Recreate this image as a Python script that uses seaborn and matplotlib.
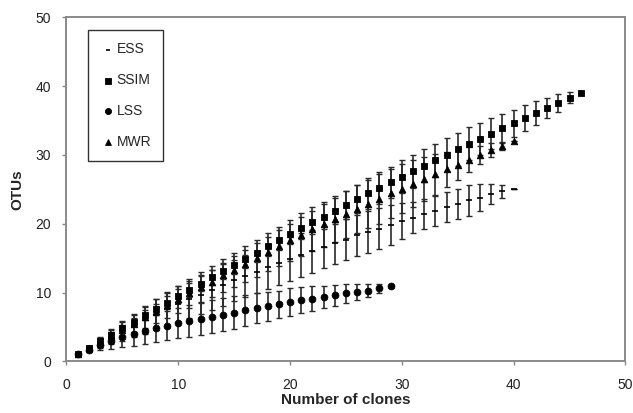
import numpy as np
import pandas as pd
import seaborn as sns
import matplotlib
matplotlib.use('Agg')
import matplotlib.pyplot as plt

# valores (media e desvio por numero de clones)
x_ess = list(range(1, 41))
ess = [1.0, 1.9, 2.8, 3.6, 4.4, 5.2, 6.0, 6.8, 7.6, 8.3, 9.0, 9.7, 10.4, 11.1, 11.8, 12.4, 13.0, 13.7, 14.3, 14.9,
       15.5, 16.0, 16.6, 17.2, 17.7, 18.3, 18.8, 19.3, 19.8, 20.4, 20.9, 21.4, 21.9, 22.4, 22.9, 23.4, 23.8, 24.3, 24.7, 25.0]
ess_err = [0, 0.4, 0.8, 1.1, 1.4, 1.7, 2.0, 2.2, 2.4, 2.6, 2.7, 2.8, 2.9, 3.0, 3.0, 3.1, 3.1, 3.2, 3.2, 3.2,
           3.2, 3.1, 3.1, 3.0, 3.0, 3.0, 3.0, 3.0, 2.9, 2.6, 2.3, 2.2, 2.2, 2.2, 2.2, 2.2, 2.0, 1.5, 1.0, 0]

x_ssim = list(range(1, 47))
ssim = [1.0, 1.95, 2.9, 3.85, 4.8, 5.75, 6.7, 7.6, 8.55, 9.5, 10.4, 11.3, 12.2, 13.1, 14.0, 14.9, 15.8, 16.7, 17.6, 18.5,
        19.35, 20.2, 21.05, 21.9, 22.75, 23.6, 24.4, 25.2, 26.0, 26.8, 27.6, 28.4, 29.2, 30.0, 30.8, 31.6, 32.3, 33.1,
        33.9, 34.6, 35.4, 36.1, 36.8, 37.6, 38.3, 39.0]
ssim_err = [0, 0.2, 0.3, 0.4, 0.5, 0.6, 0.7, 0.8, 0.9, 1.0, 1.05, 1.1, 1.15, 1.2, 1.25, 1.3, 1.35, 1.4, 1.45, 1.5,
            1.6, 1.7, 1.8, 1.9, 2.0, 2.1, 2.2, 2.3, 2.3, 2.4, 2.4, 2.4, 2.4, 2.4, 2.4, 2.4, 2.3, 2.2, 2.1, 2.0,
            1.9, 1.7, 1.5, 1.3, 0.8, 0]

x_lss = list(range(1, 30))
lss = [1.0, 1.7, 2.4, 2.9, 3.5, 4.0, 4.4, 4.8, 5.2, 5.6, 5.9, 6.2, 6.5, 6.8, 7.1, 7.4, 7.8, 8.0, 8.3, 8.6,
       8.9, 9.1, 9.4, 9.6, 9.9, 10.1, 10.3, 10.6, 10.9]
lss_err = [0, 0.4, 0.8, 1.1, 1.4, 1.7, 1.9, 2.0, 2.1, 2.2, 2.3, 2.3, 2.4, 2.4, 2.4, 2.3, 2.2, 2.1, 2.0, 2.0,
           1.9, 1.8, 1.6, 1.5, 1.4, 1.2, 1.0, 0.7, 0]

x_mwr = list(range(1, 41))
mwr = [1.0, 1.9, 2.8, 3.7, 4.6, 5.5, 6.4, 7.3, 8.2, 9.0, 9.9, 10.8, 11.6, 12.5, 13.3, 14.2, 15.0, 15.9, 16.7, 17.6,
       18.4, 19.2, 19.9, 20.7, 21.4, 22.2, 22.9, 23.6, 24.4, 25.1, 25.8, 26.5, 27.2, 27.9, 28.6, 29.3, 30.0, 30.7, 31.3, 32.0]
mwr_err = [0, 0.3, 0.6, 0.9, 1.1, 1.3, 1.5, 1.7, 1.9, 2.0, 2.1, 2.2, 2.3, 2.4, 2.5, 2.6, 2.7, 2.8, 2.9, 3.0,
           3.1, 3.2, 3.3, 3.3, 3.4, 3.5, 3.5, 3.6, 3.6, 3.6, 3.4, 3.2, 3.0, 2.6, 2.2, 1.8, 1.3, 1.0, 0.6, 0]

series = ['ESS', 'SSIM', 'LSS', 'MWR']

df = pd.concat([
    pd.DataFrame({'clones': x_ess, 'otus': ess, 'err': ess_err, 'serie': 'ESS'}),
    pd.DataFrame({'clones': x_ssim, 'otus': ssim, 'err': ssim_err, 'serie': 'SSIM'}),
    pd.DataFrame({'clones': x_lss, 'otus': lss, 'err': lss_err, 'serie': 'LSS'}),
    pd.DataFrame({'clones': x_mwr, 'otus': mwr, 'err': mwr_err, 'serie': 'MWR'}),
])

sns.set_style('white')
plt.rcParams['font.family'] = ['Liberation Sans', 'DejaVu Sans']

fig, ax = plt.subplots(figsize=(6.33, 4.13), dpi=100)
fig.subplots_adjust(left=0.105, right=0.988, top=0.958, bottom=0.125)

# barras de erro primeiro
for s in series:
    d = df[df['serie'] == s]
    ax.errorbar(d['clones'], d['otus'], yerr=d['err'], fmt='none', ecolor='#2a2a2a',
                elinewidth=1.2, capsize=2.3, capthick=1.0, zorder=2)

marcadores = {'ESS': '_', 'SSIM': 's', 'LSS': 'o', 'MWR': '^'}
tamanhos = {'ESS': 14, 'SSIM': 24, 'LSS': 24, 'MWR': 22}
for s in series:
    d = df[df['serie'] == s]
    sns.scatterplot(data=d, x='clones', y='otus', marker=marcadores[s], s=tamanhos[s],
                    color='black', edgecolor='black', linewidth=0.6 if s != 'ESS' else 1.2,
                    label=s, ax=ax, zorder=3)

ax.set_xlim(0, 50)
ax.set_ylim(0, 50)
ax.set_xticks([0, 10, 20, 30, 40, 50])
ax.set_yticks([0, 10, 20, 30, 40, 50])
ax.tick_params(axis='both', labelsize=10, labelcolor='#222222', length=3, width=1.0,
               direction='out', bottom=True, left=True, color='#888888')
ax.tick_params(axis='x', pad=9)
ax.tick_params(axis='y', pad=8)
for sp in ax.spines.values():
    sp.set_color('#8a8a8a')
    sp.set_linewidth(1.4)

ax.set_xlabel('Number of clones', fontsize=11, fontweight='bold', labelpad=1)
ax.set_ylabel('OTUs', fontsize=11, fontweight='bold', labelpad=8)

leg = ax.legend(loc='upper left', bbox_to_anchor=(0.039, 0.962), borderaxespad=0, frameon=True,
                fancybox=False, fontsize=10, labelspacing=1.22, handletextpad=0.0, handlelength=1.2,
                borderpad=0.85, markerscale=0.9)
leg.get_frame().set_edgecolor('black')
leg.get_frame().set_linewidth(1.0)

plt.savefig('out.png', dpi=100)
